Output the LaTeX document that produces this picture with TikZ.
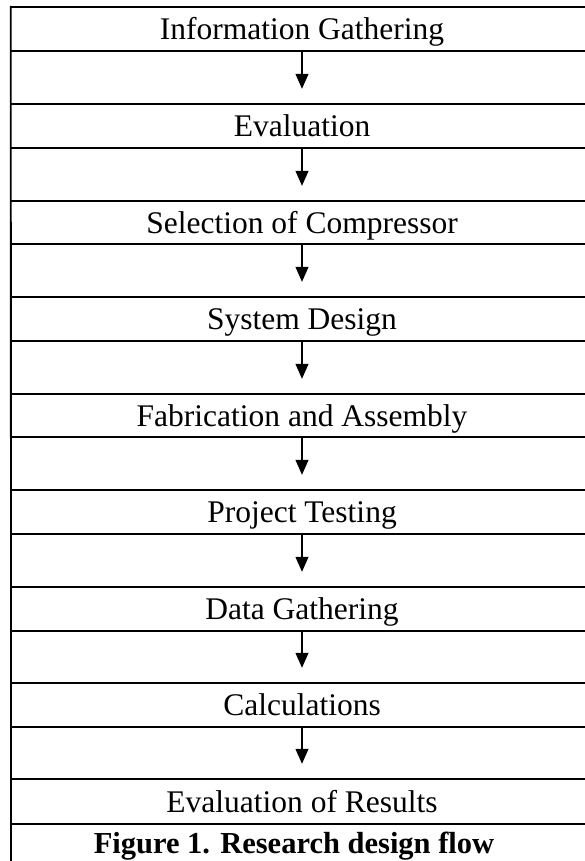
\documentclass[tikz,border=0pt]{standalone}
\usepackage{fontspec}
\setmainfont{Liberation Serif}
\usetikzlibrary{arrows.meta,calc}
\begin{document}
\begin{tikzpicture}[x=1pt,y=-1pt,
  rowbox/.style={minimum width=582pt, inner sep=0pt, text height=25pt, text depth=4pt,
    font=\fontsize{31.5}{36}\selectfont},
  gridline/.style={line width=1.8pt, line cap=rect},
  flowarrow/.style={line width=1.2pt, -{Triangle[width=13pt,length=15pt]}}]
\useasboundingbox (0,0) rectangle (584,861);
\node[rowbox, minimum height=44pt] (r1) at (302,29) {Information Gathering};
\node[rowbox, minimum height=44pt] (r2) at (302,126) {Evaluation};
\node[rowbox, minimum height=43pt] (r3) at (302,222.5) {Selection of Compressor};
\node[rowbox, minimum height=44pt] (r4) at (302,319) {System Design};
\node[rowbox, minimum height=43pt] (r5) at (302,415.5) {Fabrication and Assembly};
\node[rowbox, minimum height=44pt] (r6) at (302,512) {Project Testing};
\node[rowbox, minimum height=44pt] (r7) at (302,609) {Data Gathering};
\node[rowbox, minimum height=44pt] (r8) at (302,705) {Calculations};
\node[rowbox, minimum height=45pt] (r9) at (302,801.5) {Evaluation of Results};
\node[rowbox, minimum height=37pt, minimum width=0pt, font=\fontsize{30.5}{36}\selectfont\bfseries] (cap) at (294,842.5) {Figure 1. Research design flow};
\coordinate (bl) at (11,870);
\foreach \n in {r1,r2,r3,r4,r5,r6,r7,r8,r9}{
  \draw[gridline] (\n.north west) -- (\n.north east);
  \draw[gridline] (\n.south west) -- (\n.south east);
}
\draw[gridline] (r1.north west) -- (bl);
\foreach \a/\b in {r1/r2,r2/r3,r3/r4,r4/r5,r5/r6,r6/r7,r7/r8,r8/r9}{
  \draw[flowarrow] (\a.south) -- ($(\b.north)+(0,-15)$);
}
\end{tikzpicture}
\end{document}
